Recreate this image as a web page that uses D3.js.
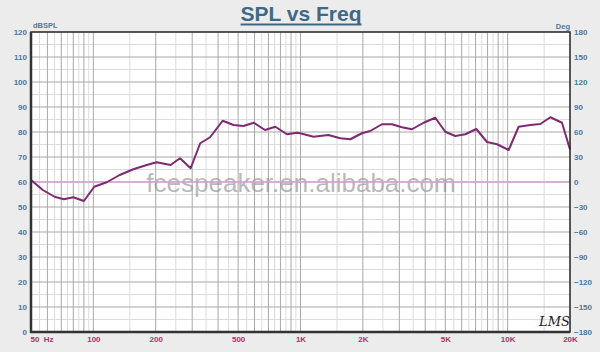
<!DOCTYPE html>
<html><head><meta charset="utf-8">
<script src="https://cdn.jsdelivr.net/npm/d3@7"></script>
<style>
html,body{margin:0;padding:0;background:#ececec;}
svg{display:block;font-family:"Liberation Sans",Arial,sans-serif;}
</style></head>
<body>
<svg id="c" width="600" height="352"></svg>
<script>
// Data
const freqs = [50,57,65,72,80,90,101,116,134,156,181,202,236,262,295,328,366,421,475,530,596,674,756,861,962,997,1156,1365,1555,1739,1980,2171,2473,2764,3088,3452,3929,4473,5000,5588,6247,7060,7950,8888,10115,11300,12870,14380,16080,18300,20000];
const spl   = [60.8,56.8,54.1,53.1,53.9,52.4,58.1,59.9,62.8,65.1,66.8,67.9,66.8,69.5,65.5,75.5,77.9,84.5,82.8,82.4,83.7,80.8,82.1,79.1,79.7,79.5,78.1,78.8,77.5,77.1,79.5,80.4,83.1,83.1,81.9,81.1,83.7,85.7,80.1,78.4,79.1,81.2,76.0,75.1,72.8,82.1,82.8,83.2,85.9,83.7,73.0];
const leftTicks = [0,10,20,30,40,50,60,70,80,90,100,110,120];
const rightTicks = [-180,-150,-120,-90,-60,-30,0,30,60,90,120,150,180];
const xTickVals = [50,100,200,500,1000,2000,5000,10000,20000];
const xTickLabels = ["50  Hz","100","200","500","1K","2K","5K","10K","20K"];

const svg = d3.select("#c");
const L=31, R=570, T=32, B=332;
const x = d3.scaleLog().domain([50,20000]).range([L,R]);
const y = d3.scaleLinear().domain([0,120]).range([B,T]);
const yR = d3.scaleLinear().domain([-180,180]).range([B,T]);

svg.append("rect").attr("x",L).attr("y",T).attr("width",R-L).attr("height",B-T).attr("fill","#fff");

// grid: vertical
const majorV=[], minorV=[];
for (let d=10; d<=10000; d*=10){
  for (let m=1; m<10; m++){
    const f=m*d; if(f>50 && f<20000) majorV.push(f);
    const h=(m+0.5)*d; if(h>50 && h<20000) minorV.push(h);
  }
}
const g = svg.append("g");
g.selectAll(".vm").data(minorV).enter().append("line")
 .attr("x1",d=>x(d)).attr("x2",d=>x(d)).attr("y1",T).attr("y2",B)
 .attr("stroke","#dcdcdc").attr("stroke-width",1);
const minorH = d3.range(5,120,10);
g.selectAll(".hm").data(minorH).enter().append("line")
 .attr("x1",L).attr("x2",R).attr("y1",d=>y(d)).attr("y2",d=>y(d))
 .attr("stroke","#dcdcdc").attr("stroke-width",1);
g.selectAll(".vM").data(majorV).enter().append("line")
 .attr("x1",d=>x(d)).attr("x2",d=>x(d)).attr("y1",T).attr("y2",B)
 .attr("stroke","#a8a8a8").attr("stroke-width",1);
g.selectAll(".hM").data(leftTicks.slice(1,-1)).enter().append("line")
 .attr("x1",L).attr("x2",R).attr("y1",d=>y(d)).attr("y2",d=>y(d))
 .attr("stroke","#a8a8a8").attr("stroke-width",1);

// watermark
svg.append("text").attr("x",301).attr("y",192).attr("text-anchor","middle")
 .attr("font-size",26).attr("fill","#8a8a8a").attr("fill-opacity",0.6)
 .text("fcespeaker.en.alibaba.com");

// phase zero line
svg.append("line").attr("x1",L).attr("x2",R).attr("y1",yR(0)).attr("y2",yR(0))
 .attr("stroke","#d9a6d4").attr("stroke-width",1.5);

// curve
const line = d3.line().x((d,i)=>x(freqs[i])).y(d=>y(d));
svg.append("path").datum(spl).attr("d",line).attr("fill","none")
 .attr("stroke","#7e2a72").attr("stroke-width",2).attr("stroke-linejoin","round");

// frame
svg.append("rect").attr("x",L).attr("y",T).attr("width",R-L).attr("height",B-T)
 .attr("fill","none").attr("stroke","#222").attr("stroke-width",1.5);
svg.append("line").attr("x1",L).attr("x2",L).attr("y1",T).attr("y2",B+1).attr("stroke","#333").attr("stroke-width",2.5);
svg.append("line").attr("x1",L-1).attr("x2",R).attr("y1",B).attr("y2",B).attr("stroke","#333").attr("stroke-width",2.5);

// axes
const yAxisL = d3.axisLeft(y).tickValues(leftTicks).tickSize(0).tickPadding(4);
const ga = svg.append("g").attr("transform",`translate(${L},0)`).call(yAxisL);
const yAxisR = d3.axisRight(yR).tickValues(rightTicks).tickSize(0).tickPadding(4);
const gr = svg.append("g").attr("transform",`translate(${R},0)`).call(yAxisR);
const xAxis = d3.axisBottom(x).tickValues(xTickVals).tickSize(0).tickPadding(4)
  .tickFormat((d,i)=>xTickLabels[i]);
const gx = svg.append("g").attr("transform",`translate(0,${B})`).call(xAxis);
[ga,gr,gx].forEach(a=>{a.select(".domain").remove();
  a.selectAll("text").attr("font-family","Liberation Sans, Arial, sans-serif")
   .attr("font-size",8).attr("font-weight","bold");});
ga.selectAll("text").attr("fill","#4a78a0");
gr.selectAll("text").attr("fill","#4a78a0").attr("dy","0.32em");
gx.selectAll("text").attr("fill","#b0306a");
gx.selectAll("text").filter((d,i)=>i===0).attr("text-anchor","start").attr("x",-1).attr("xml:space","preserve");

svg.append("text").attr("x",33).attr("y",28).attr("font-size",7.5).attr("font-weight","bold")
 .attr("fill","#4a78a0").text("dBSPL");
svg.append("text").attr("x",570).attr("y",29).attr("text-anchor","end").attr("font-size",7.5).attr("font-weight","bold")
 .attr("fill","#4a78a0").text("Deg");

// title
const title = svg.append("text").attr("x",301).attr("y",21).attr("text-anchor","middle")
 .attr("font-size",21).attr("font-weight","bold").attr("fill","#3e6886").text("SPL vs Freq");
const bb = title.node().getBBox();
svg.append("line").attr("x1",bb.x).attr("x2",bb.x+bb.width).attr("y1",24.5).attr("y2",24.5)
 .attr("stroke","#3e6886").attr("stroke-width",2);

// LMS logo
svg.append("text").attr("x",539).attr("y",326).attr("font-family","DejaVu Serif, serif")
 .attr("font-style","italic").attr("font-size",13).attr("fill","#222").text("LMS");
</script>
</body></html>
